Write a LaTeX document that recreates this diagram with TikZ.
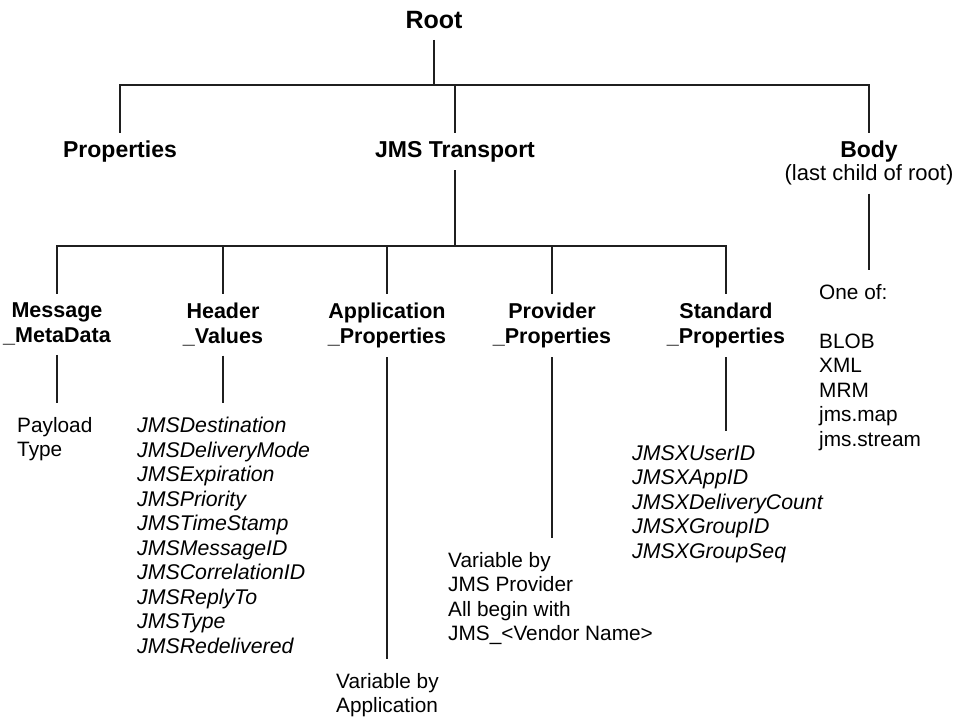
\documentclass[tikz,border=0pt]{standalone}
\usepackage{fontspec}
\setmainfont{Liberation Sans}
\usepackage{tikz}
\usetikzlibrary{positioning, calc}

\begin{document}
\begin{tikzpicture}[
    x=1pt, y=-1pt,
    font=\fontsize{20.8}{24.5}\selectfont,
    link/.style={line width=1.8pt, draw=black!88},
    top/.style={font=\fontsize{23}{24}\selectfont\bfseries, align=center, inner sep=8pt, anchor=north},
    part/.style={font=\fontsize{21.5}{25}\selectfont\bfseries, align=center, inner sep=9pt, anchor=north},
    leaf/.style={align=left, inner xsep=0pt, inner ysep=14pt, anchor=north west},
    entry/.style={leaf, font=\fontsize{21.3}{24.5}\selectfont\itshape}
]
    \useasboundingbox (0,0) rectangle (967,719);

    \node[font=\fontsize{25}{30}\selectfont\bfseries, inner ysep=11pt, anchor=south] (root) at (434,40) {Root};
    \node[top] (props) at (120,133) {Properties};
    \node[top] (jms) at (455,133) {JMS Transport};
    \node[top, font=\fontsize{22}{23}\selectfont] (body) at (869,133) {{\fontsize{23}{23}\selectfont\bfseries Body}\\(last child of root)};

    \node[part] (meta) at (57,294) {Message\\\_MetaData};
    \node[part] (hdr) at (223,294) {Header\\\_Values};
    \node[part] (app) at (387,294) {Application\\\_Properties};
    \node[part] (prov) at (552,294) {Provider\\\_Properties};
    \node[part] (std) at (726,294) {Standard\\\_Properties};

    \node[leaf] (payload) at (17,403) {Payload\\Type};
    \node[entry] (hdrlist) at (137,403) {JMSDestination\\JMSDeliveryMode\\JMSExpiration\\JMSPriority\\JMSTimeStamp\\JMSMessageID\\JMSCorrelationID\\JMSReplyTo\\JMSType\\JMSRedelivered};
    \node[leaf] (appvar) at (336,659) {Variable by\\Application};
    \node[leaf] (provvar) at (448,538) {Variable by\\JMS Provider\\All begin with\\JMS\_<Vendor Name>};
    \node[entry] (stdlist) at (632,431) {JMSXUserID\\JMSXAppID\\JMSXDeliveryCount\\JMSXGroupID\\JMSXGroupSeq};
    \node[leaf] (bodylist) at (819,270) {One of:\\[24.5pt]BLOB\\XML\\MRM\\jms.map\\jms.stream};

    \coordinate (rootbar) at (434,85);
    \coordinate (jmsbar) at (455,246);

    \draw[link] (root.south) -- (rootbar);
    \draw[link] (props.north) |- (rootbar) -| (body.north);
    \draw[link] (jms.north) -- (jms.north |- rootbar);
    \draw[link] (jms.south) -- (jmsbar);
    \draw[link] (meta.north) |- (jmsbar) -| (std.north);
    \foreach \n in {hdr, app, prov} {
        \draw[link] (\n.north) -- (\n.north |- jmsbar);
    }

    \foreach \p/\l in {meta/payload, hdr/hdrlist, app/appvar, prov/provvar, std/stdlist, body/bodylist} {
        \draw[link] (\p.south) -- (\p.south |- \l.north);
    }
\end{tikzpicture}
\end{document}
